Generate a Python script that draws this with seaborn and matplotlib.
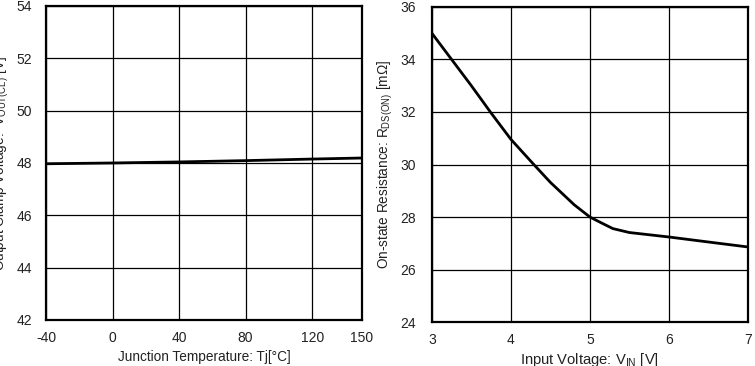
import matplotlib
matplotlib.use("Agg")
import matplotlib.pyplot as plt
import seaborn as sns
import pandas as pd

# Left chart: output clamp voltage vs junction temperature
tj_c = [-40, 0, 40, 80, 120, 150]
vout_cl = [47.97, 48.0, 48.04, 48.09, 48.15, 48.19]
tj_ticks = [-40, 0, 40, 80, 120, 150]
vout_ticks = [42, 44, 46, 48, 50, 52, 54]

# Right chart: on-state resistance vs input voltage
vin_v = [3.0, 3.25, 3.5, 3.75, 4.0, 4.29, 4.5, 4.8, 5.0, 5.13, 5.29, 5.5, 6.0, 6.55, 7.0]
rds_on = [35.0, 34.0, 33.0, 31.96, 30.96, 30.0, 29.32, 28.47, 28.0, 27.8, 27.56, 27.41, 27.24, 27.03, 26.86]
vin_ticks = [3, 4, 5, 6, 7]
rds_ticks = [24, 26, 28, 30, 32, 34, 36]

sns.set_theme(style="white")
plt.rcParams['font.family'] = ['Liberation Sans', 'DejaVu Sans']
plt.rcParams['mathtext.fontset'] = 'custom'
plt.rcParams['mathtext.rm'] = 'Liberation Sans'
plt.rcParams['mathtext.it'] = 'Liberation Sans'
plt.rcParams['axes.unicode_minus'] = False

fig = plt.figure(figsize=(7.55, 3.66), dpi=100)
ax1 = fig.add_axes([0.061, 0.1257, 0.4185, 0.858])
ax2 = fig.add_axes([0.572, 0.120, 0.4187, 0.861])

df1 = pd.DataFrame({"x": tj_c, "y": vout_cl})
df2 = pd.DataFrame({"x": vin_v, "y": rds_on})

sns.lineplot(data=df1, x="x", y="y", ax=ax1, color="black", linewidth=2.0)
sns.lineplot(data=df2, x="x", y="y", ax=ax2, color="black", linewidth=2.0)

txt = "#222222"
for ax, xt, yt, ypad in [(ax1, tj_ticks, vout_ticks, 10), (ax2, vin_ticks, rds_ticks, 11.5)]:
    ax.set_xlim(xt[0], xt[-1])
    ax.set_ylim(yt[0], yt[-1])
    ax.set_xticks(xt)
    ax.set_yticks(yt)
    ax.grid(True, color="black", linewidth=0.9)
    ax.set_axisbelow(True)
    for s in ax.spines.values():
        s.set_color("black")
        s.set_linewidth(1.6)
    ax.tick_params(axis="both", length=0, labelsize=10, colors=txt)
    ax.tick_params(axis="x", pad=8)
    ax.tick_params(axis="y", pad=ypad)

ax1.set_xlabel("Junction Temperature: Tj[\u00b0C]", fontsize=9.8, color=txt)
ax1.set_ylabel("Output Clamp Voltage:  V$_{\\mathregular{OUT(CL)}}$ [V]", fontsize=9.8, color=txt)
ax2.set_xlabel("Input Voltage: V$_{\\mathregular{IN}}$ [V]", fontsize=10.6, color=txt)
ax2.set_ylabel("On-state Resistance: R$_{\\mathregular{DS(ON)}}$ [m\u03a9]", fontsize=9.8, color=txt)

ax1.xaxis.set_label_coords(0.5, -0.097)
ax2.xaxis.set_label_coords(0.5, -0.093)
ax1.yaxis.set_label_coords(-0.112, 0.5)
ax2.yaxis.set_label_coords(-0.117, 0.5)

fig.savefig("out.png", dpi=100)
